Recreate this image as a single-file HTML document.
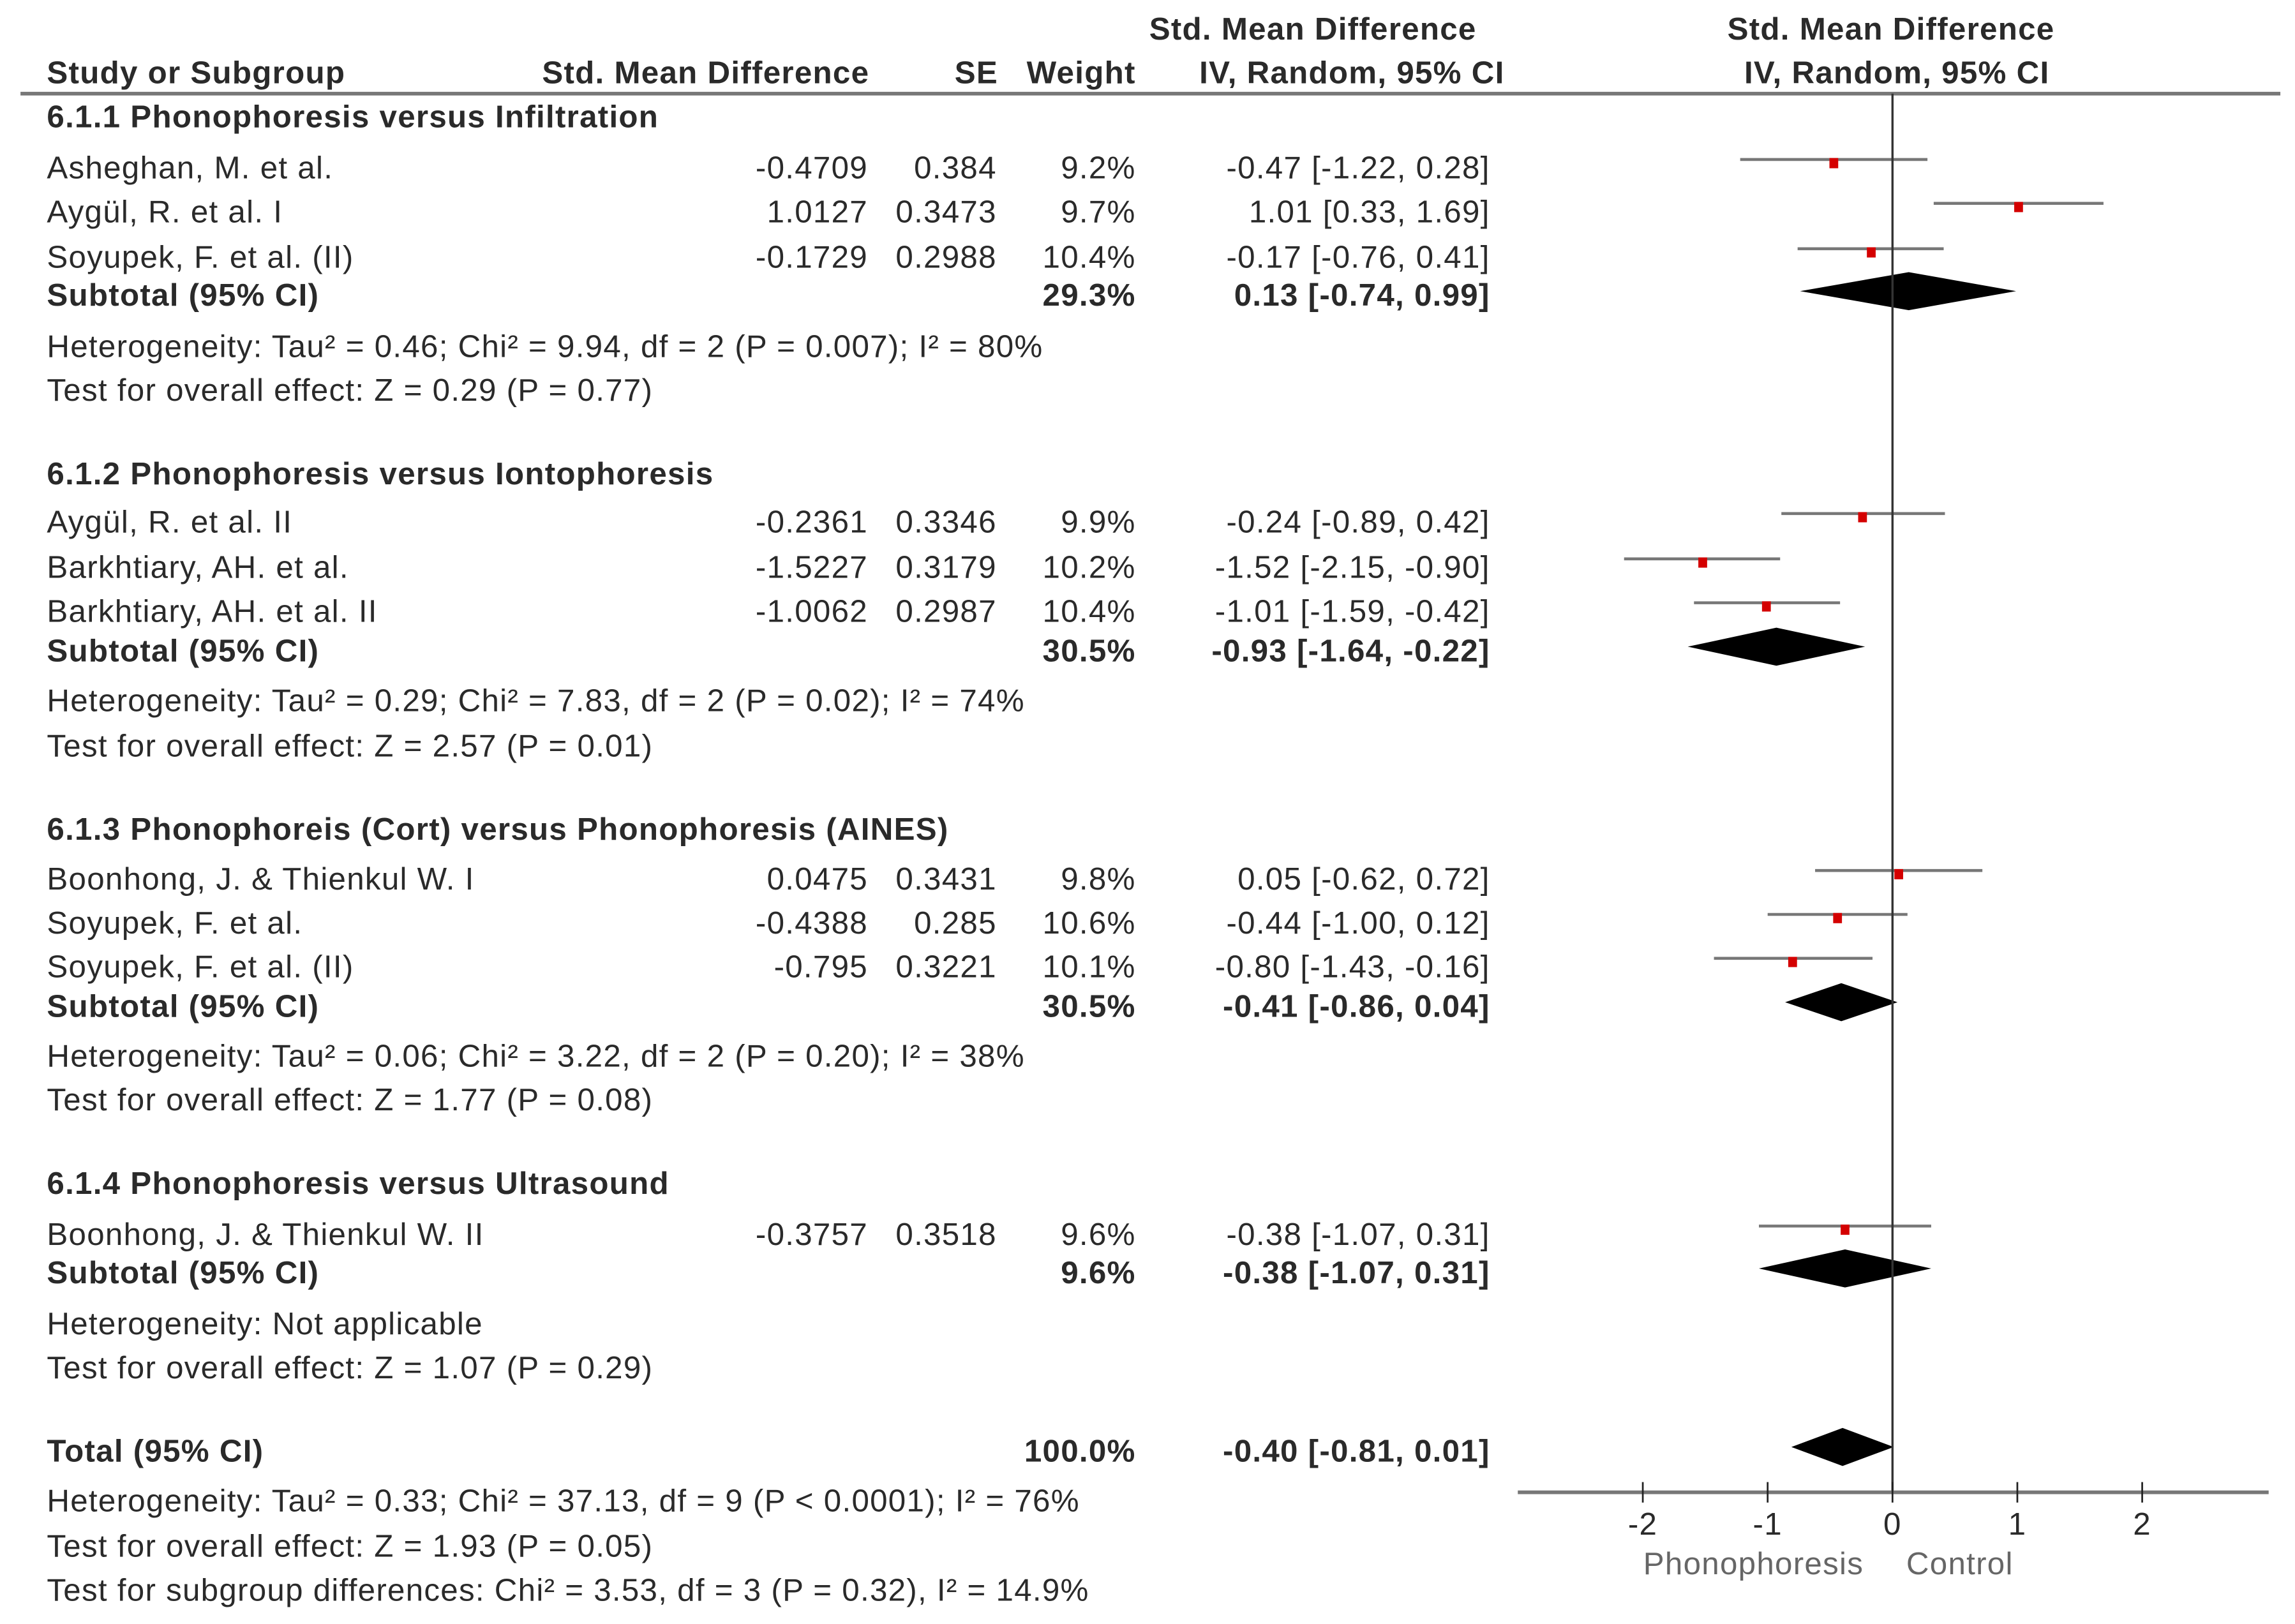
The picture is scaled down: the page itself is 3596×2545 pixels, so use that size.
<!DOCTYPE html>
<html><head><meta charset="utf-8"><style>
html,body{margin:0;padding:0;background:#fff;}
svg{display:block;}
text{font-family:"Liberation Sans",sans-serif;font-size:21.5px;letter-spacing:0.55px;fill:#2a2a2a;}
.b{font-weight:bold;}
.r{text-anchor:end;}
.m{text-anchor:middle;}
</style></head><body>
<svg id="chart" width="3596" height="2545" viewBox="0 0 1568 1110" preserveAspectRatio="none" xmlns="http://www.w3.org/2000/svg">
<g id="table"></g>
<g id="plot"></g>
</svg>
<script>
// ---- data ----
const studyNames = ["Asheghan, M. et al.","Aygül, R. et al. I","Soyupek, F. et al. (II)","Aygül, R. et al. II","Barkhtiary, AH. et al.","Barkhtiary, AH. et al. II","Boonhong, J. & Thienkul W. I","Soyupek, F. et al.","Soyupek, F. et al. (II)","Boonhong, J. & Thienkul W. II"];
const studySMD = ["-0.4709","1.0127","-0.1729","-0.2361","-1.5227","-1.0062","0.0475","-0.4388","-0.795","-0.3757"];
const studySE = ["0.384","0.3473","0.2988","0.3346","0.3179","0.2987","0.3431","0.285","0.3221","0.3518"];
const studyWeight = ["9.2%","9.7%","10.4%","9.9%","10.2%","10.4%","9.8%","10.6%","10.1%","9.6%"];
const studyEst = [-0.47,1.01,-0.17,-0.24,-1.52,-1.01,0.05,-0.44,-0.80,-0.38];
const studyLo = [-1.22,0.33,-0.76,-0.89,-2.15,-1.59,-0.62,-1.00,-1.43,-1.07];
const studyHi = [0.28,1.69,0.41,0.42,-0.90,-0.42,0.72,0.12,-0.16,0.31];
const studyY = [115,145,176,357,388,418,601,631,661,844];
const subWeight = ["29.3%","30.5%","30.5%","9.6%","100.0%"];
const subEst = [0.13,-0.93,-0.41,-0.38,-0.40];
const subLo = [-0.74,-1.64,-0.86,-1.07,-0.81];
const subHi = [0.99,-0.22,0.04,0.31,0.01];
const subY = [202,445,688,870,992];
const xTicks = [-2,-1,0,1,2];

const svgNS = "http://www.w3.org/2000/svg";
const table = document.getElementById('table');
const plot = document.getElementById('plot');
function txt(parent, s, x, y, cls, name) {
  const t = document.createElementNS(svgNS, 'text');
  t.setAttribute('x', x); t.setAttribute('y', y);
  if (cls) t.setAttribute('class', cls);
  t.textContent = s;
  
  
  parent.appendChild(t);
  return t;
}
function ln(parent, x1, y1, x2, y2, stroke, w, name) {
  const l = document.createElementNS(svgNS, 'line');
  l.setAttribute('x1', x1); l.setAttribute('y1', y1); l.setAttribute('x2', x2); l.setAttribute('y2', y2);
  l.setAttribute('stroke', stroke); l.setAttribute('stroke-width', w);
  
  
  parent.appendChild(l);
  return l;
}
const fmt = v => (v < 0 ? "-" : "") + Math.abs(v).toFixed(2);
const ciText = (e, l, h) => fmt(e) + " [" + fmt(l) + ", " + fmt(h) + "]";
const x0 = 1293, unit = 85.3;
const xs = v => x0 + v * unit;
const off = 7;

txt(table, "Std. Mean Difference", 897, 27, "b m", "header-smd-top");
txt(table, "Study or Subgroup", 32, 57, "b", "header-study");
txt(table, "Std. Mean Difference", 594, 57, "b r", "header-smd");
txt(table, "SE", 682, 57, "b r", "header-se");
txt(table, "Weight", 776, 57, "b r", "header-weight");
txt(table, "IV, Random, 95% CI", 1028, 57, "b r", "header-ci");
txt(table, "Std. Mean Difference", 1292, 27, "b m", "header-plot-top");
txt(table, "IV, Random, 95% CI", 1296, 57, "b m", "header-plot");
ln(table, 14, 64, 1558, 64, "#777", 2.5, "header-rule");

const headings = [["6.1.1 Phonophoresis versus Infiltration",80],["6.1.2 Phonophoresis versus Iontophoresis",324],["6.1.3 Phonophoreis (Cort) versus Phonophoresis (AINES)",567],["6.1.4 Phonophoresis versus Ultrasound",809]];
headings.forEach(h => txt(table, h[0], 32, h[1] + off, "b", "subgroup-heading"));
const notes = [["Heterogeneity: Tau² = 0.46; Chi² = 9.94, df = 2 (P = 0.007); I² = 80%",237],["Test for overall effect: Z = 0.29 (P = 0.77)",267],
["Heterogeneity: Tau² = 0.29; Chi² = 7.83, df = 2 (P = 0.02); I² = 74%",479],["Test for overall effect: Z = 2.57 (P = 0.01)",510],
["Heterogeneity: Tau² = 0.06; Chi² = 3.22, df = 2 (P = 0.20); I² = 38%",722],["Test for overall effect: Z = 1.77 (P = 0.08)",752],
["Heterogeneity: Not applicable",905],["Test for overall effect: Z = 1.07 (P = 0.29)",935],
["Heterogeneity: Tau² = 0.33; Chi² = 37.13, df = 9 (P < 0.0001); I² = 76%",1026],["Test for overall effect: Z = 1.93 (P = 0.05)",1057],
["Test for subgroup differences: Chi² = 3.53, df = 3 (P = 0.32), I² = 14.9%",1087]];
notes.forEach(n => txt(table, n[0], 32, n[1] + off, "", "statistics-note"));

for (let i = 0; i < studyNames.length; i++) {
  const y = studyY[i];
  txt(table, studyNames[i], 32, y + off, "", "study-name");
  txt(table, studySMD[i], 593, y + off, "r", "study-smd");
  txt(table, studySE[i], 681, y + off, "r", "study-se");
  txt(table, studyWeight[i], 776, y + off, "r", "study-weight");
  txt(table, ciText(studyEst[i], studyLo[i], studyHi[i]), 1018, y + off, "r", "study-ci");
  ln(plot, xs(studyLo[i]), y - 6, xs(studyHi[i]), y - 6, "#777", 2, "study-ci-line");
  const r = document.createElementNS(svgNS, 'rect');
  r.setAttribute('x', xs(studyEst[i]) - 3); r.setAttribute('y', y - 7);
  r.setAttribute('width', 6); r.setAttribute('height', 7); r.setAttribute('fill', '#d40000');
  
  
  plot.appendChild(r);
}
for (let i = 0; i < subEst.length; i++) {
  const y = subY[i];
  const label = i === 4 ? "Total (95% CI)" : "Subtotal (95% CI)";
  txt(table, label, 32, y + off, "b", i === 4 ? "total-label" : "subtotal-label");
  txt(table, subWeight[i], 776, y + off, "b r", "subtotal-weight");
  txt(table, ciText(subEst[i], subLo[i], subHi[i]), 1018, y + off, "b r", "subtotal-ci");
  const p = document.createElementNS(svgNS, 'polygon');
  const cy = y - 3, hh = 13;
  p.setAttribute('points', xs(subLo[i]) + "," + cy + " " + xs(subEst[i]) + "," + (cy - hh) + " " + xs(subHi[i]) + "," + cy + " " + xs(subEst[i]) + "," + (cy + hh));
  p.setAttribute('fill', '#000');
  
  
  plot.appendChild(p);
}
ln(plot, x0, 64, x0, 1020, "#333", 1.5, "zero-line");
ln(plot, 1037, 1020, 1550, 1020, "#777", 2.5, "x-axis");
xTicks.forEach(t => {
  ln(plot, xs(t), 1013, xs(t), 1027, "#222", 1.2, "x-tick");
  txt(plot, String(t), xs(t), 1049, "m", "x-tick-label");
});
const l1 = txt(plot, "Phonophoresis", 1198, 1076, "m", "favours-phonophoresis-label"); l1.style.fill = "#666";
const l2 = txt(plot, "Control", 1339, 1076, "m", "favours-control-label"); l2.style.fill = "#666";
</script>
</body></html>
